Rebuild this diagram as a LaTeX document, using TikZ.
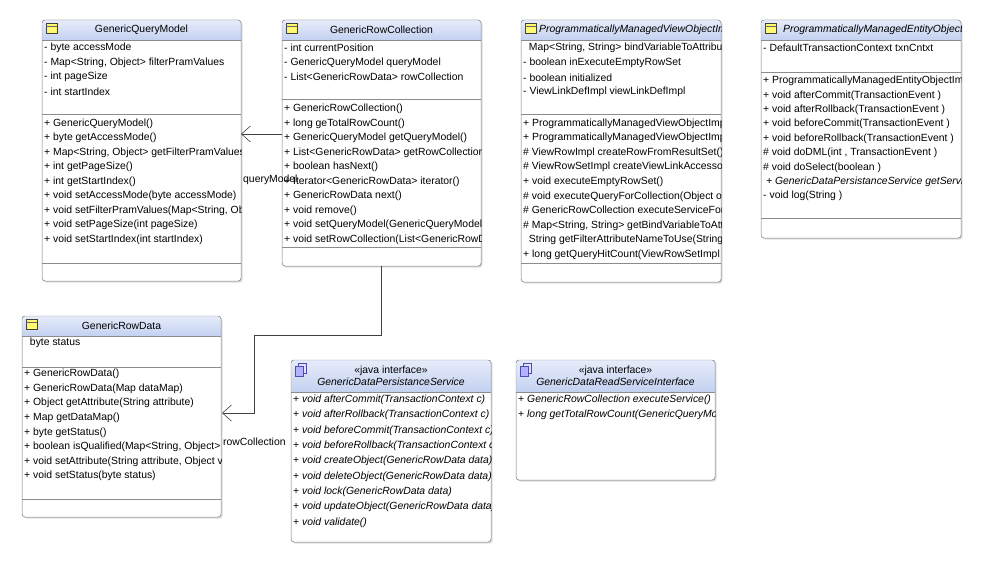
\documentclass[tikz,border=0pt]{standalone}
\usepackage{fontspec}
\setmainfont{Liberation Sans}
\usetikzlibrary{shadows,arrows.meta}
\definecolor{hdA}{HTML}{E6ECFA}
\definecolor{hdB}{HTML}{C3D1F0}
\definecolor{bord}{HTML}{8C8C8C}
\newcommand\fs{\fontsize{10.4}{12}\selectfont}
\tikzset{
  txt/.style={anchor=west,inner sep=0pt,font=\fs},
  box/.style={draw=bord,rounded corners=3pt,fill=white,inner sep=0pt,
    drop shadow={opacity=0.25,shadow xshift=1.5pt,shadow yshift=-1.5pt}},
  sep/.style={draw=bord},
  conn/.style={draw=black!75,line width=0.6pt},
  oarrow/.style={-{Straight Barb[length=9pt,width=16pt]}}
}
% #1 name #2 x #3 y #4 w #5 h #6 header h #7 title #8 sep1 #9 sep2
\newcommand\umlcls[9]{%
  \node[box,minimum width=#4pt,minimum height=#5pt,anchor=north west] (#1) at (#2,#3) {};
  \begin{scope}
    \clip[rounded corners=3pt] (#2,#3) rectangle ++(#4,#5);
    \fill[top color=hdA,bottom color=hdB] (#2,#3) rectangle ++(#4,#6);
  \end{scope}
  \draw[draw=bord,rounded corners=3pt] (#2,#3) rectangle ++(#4,#5);
  \draw[sep] (#2,#3+#6) -- ++(#4,0);
  \draw[sep] (#2,#8) -- ++(#4,0);
  \draw[sep] (#2,#9) -- ++(#4,0);
  \node[font=\fs,inner sep=0pt,align=center] (#1-t) at (#2+#4/2,#3+#6/2) {#7};
}
\newcommand\clsicon[2]{%
  \draw[draw=black!70!yellow!50!black,fill=yellow!55!white] (#1+4,#2+3) rectangle ++(11,10);
  \draw[black!60] (#1+4,#2+6) -- ++(11,0);
}
\newcommand\inticon[2]{%
  \draw[draw=blue!40!gray,fill=blue!12!white] (#1+7,#2+3) rectangle ++(8,10);
  \draw[draw=blue!40!gray,fill=blue!30!white] (#1+4,#2+6) rectangle ++(8,10);
}
% rows: #1 x #2 y0 #3 dy #4 list #5 name(clip) #6 font extra
\newcommand\rows[6]{%
  \begin{scope}
    \clip (#5.north west) rectangle (#5.south east);
    \foreach \t [count=\i] in {#4}
      \node[txt,font=\fs#6] at (#1,{#2+(\i-1)*#3}) {\t};
  \end{scope}
}
\begin{document}
\begin{tikzpicture}[x=1pt,y=-1pt]
\useasboundingbox (0,0) rectangle (982,564);
% GenericQueryModel
\umlcls{gqm}{42}{20}{199}{261}{20}{GenericQueryModel}{114}{263}
\clsicon{42}{20}
\rows{44}{48}{14.5}{{- byte accessMode},{- Map<String, Object> filterPramValues},{- int pageSize},{- int startIndex}}{gqm}{}
\rows{44}{123.5}{14.5}{{+ GenericQueryModel()},{+ byte getAccessMode()},{+ Map<String, Object> getFilterPramValues()},{+ int getPageSize()},{+ int getStartIndex()},{+ void setAccessMode(byte accessMode)},{+ void setFilterPramValues(Map<String, Object> v)},{+ void setPageSize(int pageSize)},{+ void setStartIndex(int startIndex)}}{gqm}{}
% GenericRowCollection
\umlcls{grc}{282}{20}{199}{246}{20}{GenericRowCollection}{99}{247}
\clsicon{282}{20}
\rows{284}{48}{14.5}{{- int currentPosition},{- GenericQueryModel queryModel},{- List<GenericRowData> rowCollection}}{grc}{}
\rows{284}{109}{14.5}{{+ GenericRowCollection()},{+ long geTotalRowCount()},{+ GenericQueryModel getQueryModel()},{+ List<GenericRowData> getRowCollection()},{+ boolean hasNext()},{+ Iterator<GenericRowData> iterator()},{+ GenericRowData next()},{+ void remove()},{+ void setQueryModel(GenericQueryModel m)},{+ void setRowCollection(List<GenericRowData> l)}}{grc}{}
% PM View Object
\umlcls{pmv}{521}{20}{200}{262}{20}{}{114}{263}
\clsicon{521}{20}
\begin{scope}\clip (pmv.north west) rectangle (pmv.south east);
\node[txt,font=\fs\itshape] (pmv-n) at (539,30) {ProgrammaticallyManagedViewObjectImpl};
\end{scope}
\rows{523}{48}{14.7}{{\ \ Map<String, String> bindVariableToAttributeMap},{- boolean inExecuteEmptyRowSet},{- boolean initialized},{- ViewLinkDefImpl viewLinkDefImpl}}{pmv}{}
\rows{523}{123.5}{14.6}{{+ ProgrammaticallyManagedViewObjectImpl()},{+ ProgrammaticallyManagedViewObjectImpl(x)},{\# ViewRowImpl createRowFromResultSet()},{\# ViewRowSetImpl createViewLinkAccessor()},{+ void executeEmptyRowSet()},{\# void executeQueryForCollection(Object o)},{\# GenericRowCollection executeServiceFor()},{\# Map<String, String> getBindVariableToAttr()},{\ \ String getFilterAttributeNameToUse(String s)},{+ long getQueryHitCount(ViewRowSetImpl r)}}{pmv}{}
% PM Entity Object
\umlcls{pme}{761}{20}{200}{218}{20}{}{72}{218}
\clsicon{761}{20}
\begin{scope}\clip (pme.north west) rectangle (pme.south east);
\node[txt,font=\fs\itshape] (pme-n) at (783,30) {ProgrammaticallyManagedEntityObjectImpl};
\end{scope}
\rows{763}{48}{14.5}{{- DefaultTransactionContext txnCntxt}}{pme}{}
\rows{763}{81}{14.4}{{+ ProgrammaticallyManagedEntityObjectImpl()},{+ void afterCommit(TransactionEvent )},{+ void afterRollback(TransactionEvent )},{+ void beforeCommit(TransactionEvent )},{+ void beforeRollback(TransactionEvent )},{\# void doDML(int , TransactionEvent )},{\# void doSelect(boolean )},{\ \textit{+ GenericDataPersistanceService getService()}},{- void log(String )}}{pme}{}
% GenericRowData
\umlcls{grd}{22}{316}{199}{201}{20}{GenericRowData}{367}{499}
\clsicon{22}{316}
\rows{24}{343}{14.5}{{\ \ byte status}}{grd}{}
\rows{24}{374}{14.6}{{+ GenericRowData()},{+ GenericRowData(Map dataMap)},{+ Object getAttribute(String attribute)},{+ Map getDataMap()},{+ byte getStatus()},{+ boolean isQualified(Map<String, Object> m)},{+ void setAttribute(String attribute, Object v)},{+ void setStatus(byte status)}}{grd}{}
% GenericDataPersistanceService
\umlcls{gdps}{291}{360}{200}{182}{32}{«java interface»\\[0pt]\textit{GenericDataPersistanceService}}{392}{392}
\inticon{291}{360}
\rows{293}{400}{15.3}{{+ \textit{void afterCommit(TransactionContext c)}},{+ \textit{void afterRollback(TransactionContext c)}},{+ \textit{void beforeCommit(TransactionContext c)}},{+ \textit{void beforeRollback(TransactionContext c)}},{+ \textit{void createObject(GenericRowData data)}},{+ \textit{void deleteObject(GenericRowData data)}},{+ \textit{void lock(GenericRowData data)}},{+ \textit{void updateObject(GenericRowData data)}},{+ \textit{void validate()}}}{gdps}{}
% GenericDataReadServiceInterface
\umlcls{gdrs}{516}{360}{199}{120}{32}{«java interface»\\[0pt]\textit{GenericDataReadServiceInterface}}{392}{392}
\inticon{516}{360}
\rows{518}{400}{15.3}{{+ \textit{GenericRowCollection executeService()}},{+ \textit{long getTotalRowCount(GenericQueryModel m)}}}{gdrs}{}
% connectors
\coordinate (c1) at (282,134);
\coordinate (c2) at (241,134);
\draw[conn,oarrow] (c1) -- (c2);
\node[txt] (l1) at (243,180) {queryModel};
\coordinate (d0) at (381,266);
\coordinate (d1) at (381,335);
\coordinate (d2) at (254,335);
\coordinate (d3) at (254,413);
\coordinate (d4) at (222,413);
\draw[conn,oarrow] (d0) -- (d1) -- (d2) -- (d3) -- (d4);
\node[txt] (l2) at (223,442) {rowCollection};
\end{tikzpicture}
\end{document}
